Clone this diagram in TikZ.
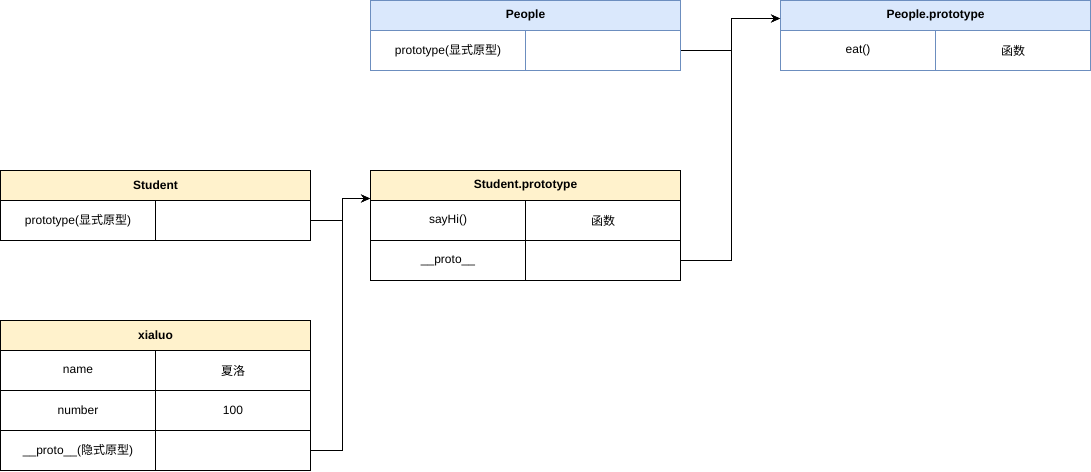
\documentclass[tikz,border=0pt]{standalone}
\usepackage{fontspec}
\setmainfont{Liberation Sans}
\newfontfamily\cjk{Noto Sans CJK SC}
\usetikzlibrary{arrows.meta}
\definecolor{bluefill}{HTML}{DAE8FC}
\definecolor{blueline}{HTML}{6C8EBF}
\definecolor{yelfill}{HTML}{FFF2CC}
\definecolor{conncol}{HTML}{000000}
\tikzset{
  cellbase/.style={draw, anchor=north west, inner sep=0pt, line width=1pt,
    font=\fontsize{12}{14}\selectfont, text=black},
  cell/.style={cellbase, minimum width=155pt, minimum height=40pt},
  head/.style={cellbase, minimum width=310pt, minimum height=30pt, font=\fontsize{12}{14}\selectfont\bfseries},
  bluehead/.style={head, fill=bluefill, draw=blueline},
  bluecell/.style={cell, draw=blueline},
  yelhead/.style={head, fill=yelfill, draw=black},
  yelcell/.style={cell, draw=black},
  conn/.style={draw=conncol, line width=1pt, -{Stealth[length=9pt,width=8pt]}},
  plain/.style={draw=conncol, line width=1pt}
}
\begin{document}
\begin{tikzpicture}[x=1pt,y=-1pt]
\useasboundingbox[fill=white] (0,0) rectangle (1091,471);
% People
\node[bluehead] (pH) at (370,0) {People};
\node[bluecell] (pPk) at (370,30) {prototype({\cjk 显式原型})};
\node[bluecell] (pPv) at (525,30) {};
% People.prototype
\node[bluehead] (ppH) at (780,0) {People.prototype};
\node[bluecell] (ppEk) at (780,30) {eat()};
\node[bluecell] (ppEv) at (935,30) {\cjk 函数};
% Student
\node[yelhead] (sH) at (0,170) {Student};
\node[yelcell] (sPk) at (0,200) {prototype({\cjk 显式原型})};
\node[yelcell] (sPv) at (155,200) {};
% Student.prototype
\node[yelhead] (spH) at (370,170) {Student.prototype};
\node[yelcell] (spSk) at (370,200) {sayHi()};
\node[yelcell] (spSv) at (525,200) {\cjk 函数};
\node[yelcell] (spPk) at (370,240) {\_\_proto\_\_};
\node[yelcell] (spPv) at (525,240) {};
% xialuo
\node[yelhead] (xH) at (0,320) {xialuo};
\node[yelcell] (xNk) at (0,350) {name};
\node[yelcell] (xNv) at (155,350) {\cjk 夏洛};
\node[yelcell] (xMk) at (0,390) {number};
\node[yelcell] (xMv) at (155,390) {100};
\node[yelcell] (xPk) at (0,430) {\_\_proto\_\_({\cjk 隐式原型})};
\node[yelcell] (xPv) at (155,430) {};
% target points
\coordinate (tSP) at ([yshift=-13pt]spH.west);
\coordinate (tPP) at ([yshift=-3pt]ppH.west);
% connectors
\draw[conn] (sPv.east) -- ++(31,0) |- (tSP);
\draw[conn] (xPv.east) -- ++(31,0) |- (tSP);
\draw[conn] (spPv.east) -- ++(50,0) |- (tPP);
\draw[conn] (pPv.east) -- ++(50,0) |- (tPP);
\end{tikzpicture}
\end{document}
